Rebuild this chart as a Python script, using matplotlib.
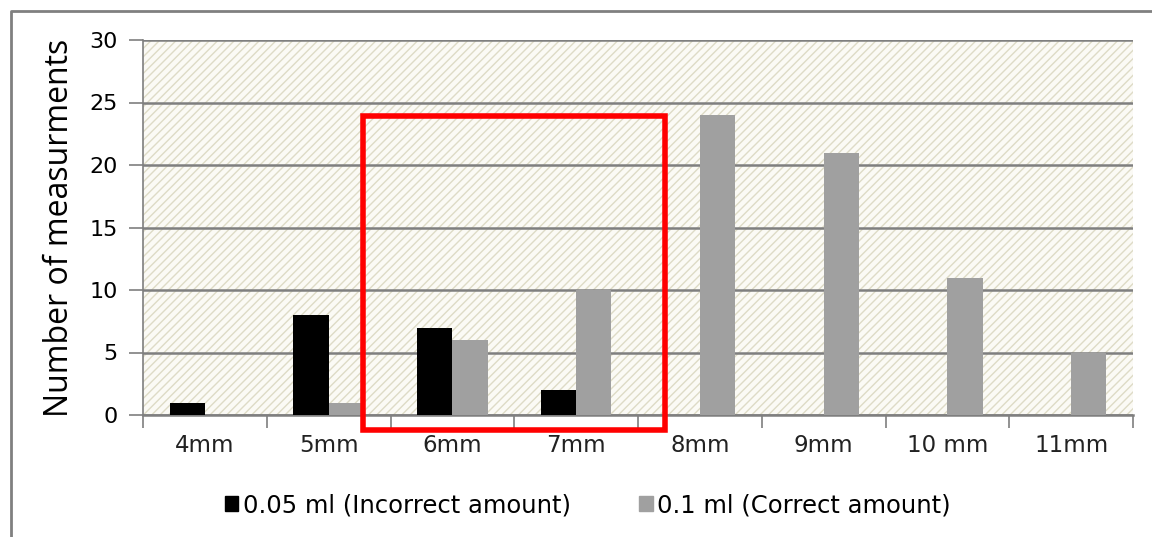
import matplotlib.pyplot as plt
import numpy as np
from matplotlib.patches import Rectangle
from matplotlib.lines import Line2D

sizes = ['4mm', '5mm', '6mm', '7mm', '8mm', '9mm', '10 mm', '11mm']
low_dose = [1, 8, 7, 2, 0, 0, 0, 0]
high_dose = [0, 1, 6, 10, 24, 21, 11, 5]
labels = ['0.05 ml (Incorrect amount)', '0.1 ml (Correct amount)']

fig = plt.figure(figsize=(11.52, 5.37), dpi=100)
ax = fig.add_axes([143 / 1152, 1 - 415 / 537, 990 / 1152, 375 / 537])

# hatched plot background
ax.set_facecolor('#fbfaf5')
ax.add_patch(Rectangle((0, 0), 1, 1, transform=ax.transAxes, facecolor='none',
                       edgecolor='#dedbc6', hatch='////', linewidth=0, zorder=0))

x = np.arange(len(sizes))
w = 0.285
ax.bar(x - w / 2, low_dose, w, color='black', zorder=3)
ax.bar(x + w / 2, high_dose, w, color='#a0a0a0', zorder=3)

ax.set_xlim(-0.5, len(sizes) - 0.5)
ax.set_ylim(0, 30)
ax.set_yticks(range(0, 31, 5))
ax.yaxis.grid(True, color='#7f7f7f', linewidth=1.8, zorder=1)
ax.set_axisbelow(True)

ax.set_xticks(np.arange(-0.5, len(sizes)), minor=False)
ax.set_xticklabels([])
ax.set_xticks(x, minor=True)
ax.set_xticklabels(sizes, minor=True, fontsize=16.5, family='DejaVu Sans', color='#222222')
ax.tick_params(axis='x', which='major', length=9, width=1.2, color='#7f7f7f')
ax.tick_params(axis='x', which='minor', length=0, pad=14)
ax.tick_params(axis='y', length=10, width=1.2, color='#7f7f7f', labelsize=16, pad=8)

for s in ['top', 'right']:
    ax.spines[s].set_visible(False)
ax.spines['left'].set_color('#7f7f7f')
ax.spines['left'].set_linewidth(1.2)
ax.spines['bottom'].set_color('#7f7f7f')
ax.spines['bottom'].set_linewidth(1.8)

ax.set_ylabel('Number of measurments', fontsize=23, family='Open Sans', labelpad=10)

# highlight box around 6mm and 7mm
ax.add_patch(Rectangle((1.278, -1.2), 2.44, 25.12, fill=False, edgecolor='#ff0000',
                       linewidth=4, clip_on=False, zorder=5))

handles = [Rectangle((0, 0), 1, 1, color='black'), Rectangle((0, 0), 1, 1, color='#a0a0a0')]
fig.legend(handles, labels, loc='center', bbox_to_anchor=(588 / 1152, 1 - 505 / 537), ncol=2,
           frameon=False, handlelength=0.55, handleheight=0.6,
           handletextpad=0.2, columnspacing=2.8, prop={'family': 'DejaVu Sans', 'size': 17.5})

# outer chart frame
fig.add_artist(Line2D([11 / 1152, 11 / 1152, 1.0], [0, 1 - 11 / 537, 1 - 11 / 537],
                      transform=fig.transFigure, color='#808080', linewidth=2))

fig.savefig('out.png', dpi=100)
